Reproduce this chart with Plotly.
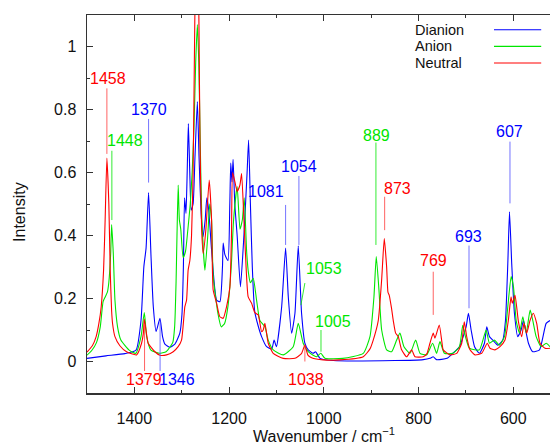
import plotly.graph_objects as go

# ---------------- data ----------------
dianion_wn = [1500, 1460, 1420, 1396.5, 1386, 1380, 1375.3, 1370, 1365, 1360, 1354, 1346, 1340.5,
              1335.5, 1325, 1314.5, 1304, 1299.5, 1296.5, 1294, 1291, 1288.5, 1286, 1283, 1280,
              1276, 1272, 1267, 1263.5, 1259, 1255, 1250.5, 1247, 1243, 1237, 1226.4, 1219.4,
              1214, 1212.5, 1209, 1202.4, 1198.5, 1196.5, 1194, 1191.6, 1188, 1183, 1176,
              1168.7, 1162, 1158.8, 1155, 1151, 1146, 1139, 1131.4, 1120.8, 1110, 1105, 1100,
              1089, 1080.7, 1075, 1068, 1061, 1054, 1047, 1040, 1033, 1022.5, 1017.4, 1008, 980,
              850, 790, 776, 769, 762, 740, 727.8, 713.7, 699.6, 694.7, 689, 681.8, 671.5, 660.9,
              656, 650.3, 643.3, 632.7, 622.2, 616.5, 611.6, 608, 603.3, 597.6, 590.6, 583.5,
              578.6, 568, 558.8, 544.6, 530.6, 522.5]
dianion_int = [0.01, 0.018, 0.025, 0.036, 0.13, 0.30, 0.36, 0.536, 0.34, 0.174, 0.095, 0.137, 0.079,
               0.055, 0.045, 0.055, 0.09, 0.15, 0.30, 0.52, 0.47, 0.60, 0.755, 0.60, 0.48,
               0.50, 0.65, 0.825, 0.65, 0.47, 0.396, 0.45, 0.52, 0.48, 0.354, 0.195, 0.19,
               0.30, 0.376, 0.34, 0.32, 0.50, 0.63, 0.57, 0.642, 0.50, 0.40, 0.237,
               0.40, 0.60, 0.703, 0.50, 0.30, 0.16, 0.115, 0.079, 0.047, 0.04, 0.068, 0.047,
               0.174, 0.36, 0.205, 0.09, 0.153, 0.367, 0.153, 0.058, 0.037, 0.026, 0.031, 0.01, 0.003,
               0.003, 0.006, 0.01, 0.015, 0.006, 0.01, 0.026, 0.047, 0.11, 0.153, 0.10, 0.047, 0.026, 0.058,
               0.11, 0.079, 0.068, 0.052, 0.068, 0.13, 0.31, 0.475, 0.31, 0.153, 0.079, 0.10,
               0.13, 0.058, 0.031, 0.037, 0.121, 0.13]

anion_wn = [1500, 1490, 1480, 1472, 1466, 1461.5, 1457, 1454, 1450, 1448, 1444.5, 1441, 1435.5,
            1428.5, 1411, 1397, 1386, 1379, 1374, 1365, 1347.5, 1333, 1319, 1315, 1312, 1310,
            1307.5, 1305, 1302, 1297, 1292, 1287, 1282, 1278, 1274, 1270.5, 1267, 1264, 1261,
            1257.5, 1251, 1245, 1241, 1237, 1233.6, 1223.6, 1216.5, 1209.5, 1202.5, 1195.5,
            1190.5, 1183, 1177, 1172, 1168, 1163, 1159, 1155, 1149, 1142, 1135, 1124.4, 1117.4,
            1106.9, 1085.7, 1064.6, 1054, 1043.6, 1033, 1015.5, 1006.3, 997.6, 960, 916.8, 902.6,
            894.2, 889.3, 883.6, 877.9, 867.4, 856.8, 846.3, 839.3, 830.8, 818.1, 806.1, 797,
            783, 770.3, 761.9, 754.8, 745.4, 727.8, 713.7, 706.7, 701, 692.6, 671.5, 657.4,
            650.3, 639.8, 629.2, 618.6, 611.6, 604.5, 599.6, 593.9, 586.9, 579.8, 572.8, 564.4,
            558.8, 551.7, 541.2, 530.6, 522.5]
anion_int = [0.02, 0.035, 0.06, 0.11, 0.19, 0.205, 0.22, 0.25, 0.343, 0.435, 0.343, 0.195, 0.11,
             0.068, 0.036, 0.026, 0.079, 0.155, 0.079, 0.036, 0.026, 0.031, 0.06, 0.11, 0.25, 0.40,
             0.56, 0.45, 0.42, 0.33, 0.35, 0.42, 0.50, 0.60, 0.75, 0.95, 1.07, 0.95, 0.70,
             0.45, 0.29, 0.40, 0.50, 0.45, 0.27, 0.153, 0.11, 0.121, 0.174, 0.30,
             0.45, 0.555, 0.42, 0.45, 0.52, 0.35, 0.28, 0.25, 0.264, 0.195, 0.13, 0.11, 0.068,
             0.037, 0.021, 0.047, 0.121, 0.058, 0.031, 0.015, 0.026, 0.01, 0.01, 0.026, 0.079,
             0.205, 0.333, 0.227, 0.10, 0.037, 0.031, 0.068, 0.09, 0.047, 0.026, 0.068, 0.026,
             0.021, 0.058, 0.026, 0.063, 0.026, 0.026, 0.047, 0.115, 0.079, 0.042, 0.037, 0.10,
             0.058, 0.068, 0.052, 0.079, 0.174, 0.27, 0.237, 0.13, 0.09, 0.142, 0.09, 0.163,
             0.13, 0.079, 0.047, 0.058, 0.047]

neutral_wn = [1500, 1488.7, 1480.7, 1475, 1470, 1465, 1461.7, 1458, 1453.9, 1451, 1448, 1446,
              1441, 1430.6, 1416.5, 1395.4, 1384.8, 1381, 1379, 1373.6, 1370.9, 1356.7, 1346,
              1332, 1318, 1307.6, 1300.4, 1293.4, 1289.8, 1286.5, 1282.9, 1279.3, 1276, 1273,
              1268, 1263.5, 1261.5, 1258, 1254.7, 1249, 1242, 1237, 1233.6, 1226.4, 1219.4,
              1212.5, 1205.3, 1198.3, 1195, 1192.6, 1187.7, 1182.9, 1177.2, 1173.6, 1168.7,
              1163.5, 1159.7, 1152.5, 1145.6, 1138.5, 1131.4, 1128, 1124.4, 1117.4, 1106.9,
              1085.7, 1061, 1047.3, 1040, 1033.6, 1025.8, 1001.3, 966, 916.8, 902.6, 895.7,
              885.1, 877.9, 872.4, 867.4, 864.6, 861.9, 857.2, 853.4, 848.4, 842.9, 835.7, 825.1,
              814.6, 807.6, 790.1, 782.4, 776, 769, 765.4, 756.3, 750.6, 747.9, 733.7, 719.5,
              708.9, 703.5, 698.4, 691.4, 680.9, 666.7, 654.9, 649.2, 638.6, 628.1, 617.5, 610.5,
              604.8, 602.1, 596.4, 589.5, 582.2, 577.4, 571.7, 564.7, 557.8, 550.6, 543.6, 533,
              522.5]
neutral_int = [0.03, 0.05, 0.079, 0.12, 0.174, 0.29, 0.45, 0.646, 0.50, 0.29, 0.16, 0.12,
               0.079, 0.05, 0.031, 0.021, 0.058, 0.09, 0.135, 0.08, 0.058, 0.031, 0.02,
               0.021, 0.031, 0.047, 0.068, 0.174, 0.195, 0.29, 0.32, 0.40, 0.60, 1.0,
               1.6, 1.05, 0.70, 0.42, 0.343, 0.42, 0.576, 0.45, 0.227, 0.185, 0.142,
               0.137, 0.174, 0.237, 0.40, 0.60, 0.57, 0.54, 0.56, 0.597, 0.45,
               0.28, 0.205, 0.185, 0.155, 0.148, 0.095, 0.10, 0.121, 0.058, 0.026,
               0.01, 0.01, 0.025, 0.052, 0.02, 0.012, 0.005, 0.005, 0.015, 0.04, 0.068,
               0.13, 0.26, 0.39, 0.30, 0.22, 0.21, 0.17, 0.13, 0.09, 0.079, 0.037, 0.015,
               0.037, 0.015, 0.015, 0.025, 0.058, 0.09, 0.074, 0.116, 0.06, 0.037, 0.021, 0.026,
               0.058, 0.126, 0.079, 0.037, 0.021, 0.026, 0.058, 0.042, 0.037, 0.047, 0.068, 0.13,
               0.205, 0.185, 0.21, 0.13, 0.079, 0.121, 0.09, 0.13, 0.153, 0.121, 0.058, 0.042,
               0.042]

series_names = ["Dianion", "Anion", "Neutral"]

# peak labels: text, series, wavenumber of the marker line, line top/bottom intensity
label_text = ["1458", "1448", "1370", "1379", "1346", "1081", "1054", "1053", "1005", "1038",
              "889", "873", "769", "693", "607"]
label_series = ["Neutral", "Anion", "Dianion", "Neutral", "Dianion", "Dianion", "Dianion",
                "Anion", "Anion", "Neutral", "Anion", "Neutral", "Neutral", "Dianion", "Dianion"]
label_line_x0 = [1458, 1447.5, 1370, 1378.5, 1345.7, 1080.7, 1052.6, 1040, 1006, 1040,
                 890, 871.6, 769, 693.5, 607]
label_line_x1 = [1458, 1447.5, 1370, 1378.5, 1345.7, 1080.7, 1052.6, 1048.4, 1006, 1040,
                 890, 871.6, 769, 693.5, 607]
label_line_top = [0.867, 0.669, 0.77, 0.12, 0.13, 0.497, 0.589, 0.249, 0.10, 0.052,
                  0.695, 0.523, 0.285, 0.368, 0.698]
label_line_bot = [0.659, 0.449, 0.568, -0.03, -0.03, 0.37, 0.37, 0.179, 0.031, 0.0,
                  0.37, 0.417, 0.148, 0.169, 0.502]
# text centre positions (layout)
label_tx = [1456, 1419.4, 1369, 1380, 1309, 1122, 1053, 1000, 980, 1037.4,
            889.3, 844, 769, 694, 607.4]
label_ty = [0.897, 0.701, 0.80, -0.056, -0.056, 0.539, 0.618, 0.296, 0.126, -0.056,
            0.719, 0.55, 0.32, 0.396, 0.73]

# ---------------- styles ----------------
colors = {"Dianion": "#0000ff", "Anion": "#00e600", "Neutral": "#ff0000"}
line_colors = {"Dianion": "rgba(80,80,255,0.8)", "Anion": "rgba(0,230,0,0.8)",
               "Neutral": "rgba(255,60,60,0.8)"}
FONT = "Liberation Sans, Arial, Helvetica, sans-serif"

fig = go.Figure()
data = {"Dianion": (dianion_wn, dianion_int),
        "Anion": (anion_wn, anion_int),
        "Neutral": (neutral_wn, neutral_int)}
for name in series_names:
    xs, ys = data[name]
    fig.add_trace(go.Scatter(x=xs, y=ys, mode="lines", name=name, showlegend=False,
                             hoverinfo="skip",
                             line=dict(color=colors[name], width=1.1, shape="spline",
                                       smoothing=0.5),
                             cliponaxis=True))

shapes = []
annotations = []
for t, s, x0, x1, yt, yb, tx, ty in zip(label_text, label_series, label_line_x0, label_line_x1,
                                         label_line_top, label_line_bot, label_tx, label_ty):
    shapes.append(dict(type="line", xref="x", yref="y", x0=x0, x1=x1, y0=yt, y1=yb,
                       line=dict(color=line_colors[s], width=1)))
    annotations.append(dict(x=tx, y=ty, xref="x", yref="y", text=t, showarrow=False,
                            xanchor="center", yanchor="middle",
                            font=dict(family=FONT, size=16, color=colors[s])))

# legend (gnuplot style: text then line sample)
leg_y = [0.961, 0.917, 0.873]
for name, ly in zip(series_names, leg_y):
    annotations.append(dict(x=0.706, y=ly, xref="paper", yref="paper", text=name,
                            showarrow=False, xanchor="left", yanchor="middle", borderpad=0,
                            font=dict(family=FONT, size=14.5, color="#111111")))
    shapes.append(dict(type="line", xref="paper", yref="paper", x0=0.879, x1=0.981,
                       y0=ly, y1=ly, line=dict(color=colors[name], width=1.2)))

# axis titles
annotations.append(dict(x=0.511, y=0, xref="paper", yref="paper", yshift=-42,
                        text="Wavenumber / cm<sup>\u22121</sup>", showarrow=False,
                        xanchor="center", yanchor="middle",
                        font=dict(family=FONT, size=16, color="#111111")))
annotations.append(dict(x=-0.1447, y=0.479, xref="paper", yref="paper", text="Intensity",
                        textangle=-90, showarrow=False, xanchor="center", yanchor="middle",
                        font=dict(family=FONT, size=16, color="#111111")))

fig.update_layout(
    width=550, height=445,
    margin=dict(l=87, r=0, t=15, b=52),
    paper_bgcolor="white", plot_bgcolor="white",
    showlegend=False, hovermode=False,
    shapes=shapes, annotations=annotations,
    font=dict(family=FONT, size=16, color="#111111"),
)
fig.update_xaxes(range=[1500, 522.5], tick0=1400, dtick=200, ticks="inside", ticklen=6,
                 tickwidth=1, tickcolor="#333333",
                 minor=dict(dtick=100, ticks="inside", ticklen=3, tickcolor="#333333"),
                 showline=True, linecolor="#333333", linewidth=1.5, mirror="ticks",
                 showgrid=False, zeroline=False, ticklabelstandoff=10,
                 tickfont=dict(family=FONT, size=16, color="#111111"))
fig.update_yaxes(range=[-0.1, 1.1], tick0=0, dtick=0.2, ticks="inside", ticklen=6,
                 tickwidth=1, tickcolor="#333333",
                 minor=dict(dtick=0.1, ticks="inside", ticklen=3, tickcolor="#333333"),
                 showline=True, linecolor="#333333", linewidth=1.5, mirror=False,
                 showgrid=False, zeroline=False, ticklabelstandoff=6,
                 tickfont=dict(family=FONT, size=16, color="#111111"))

fig.write_html("out.html", config={"displayModeBar": False, "staticPlot": True},
               post_script="document.body.style.margin='0px';document.body.style.overflow='hidden';")
